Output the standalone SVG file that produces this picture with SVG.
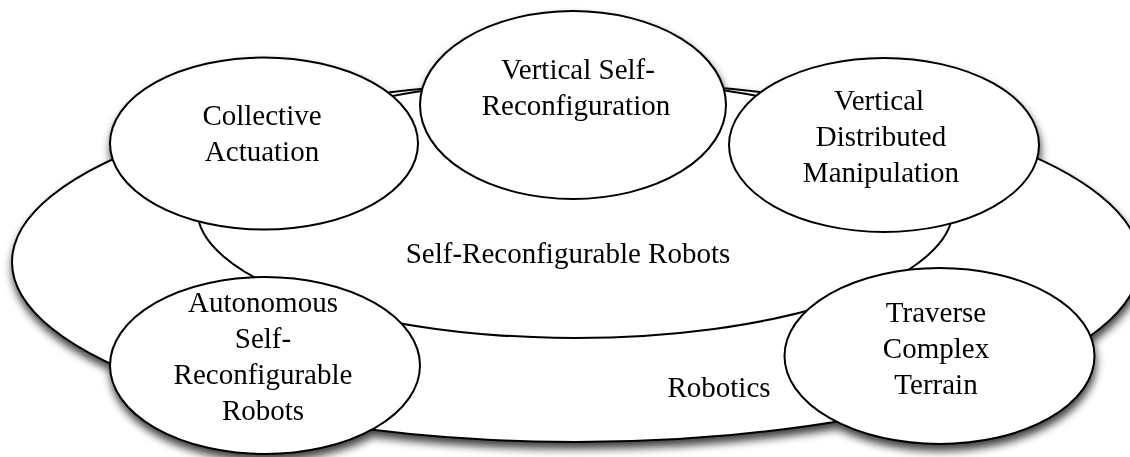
<svg xmlns="http://www.w3.org/2000/svg" width="1130" height="457" viewBox="0 0 1130 457">
  <defs>
    <!-- one soft shadow for the whole figure, so it sits beneath every shape -->
    <filter id="soft-shadow" x="-10%" y="-10%" width="120%" height="125%">
      <feDropShadow dx="1" dy="6" stdDeviation="4.5" flood-color="#000" flood-opacity="0.75"/>
    </filter>
  </defs>
  <style>
    .shape { fill: #fff; stroke: #000; stroke-width: 2; }
    .label { font-family: "Liberation Serif", "Times New Roman", serif; font-size: 29px; fill: #000; text-anchor: middle; }
  </style>

  <rect width="1130" height="457" fill="#fff"/>

  <g id="diagram" filter="url(#soft-shadow)">
    <!-- outer field -->
    <g id="robotics">
      <ellipse class="shape" cx="576" cy="262" rx="564" ry="180"/>
      <text class="label" x="719" y="397">Robotics</text>
    </g>

    <!-- inner field -->
    <g id="self-reconfigurable-robots">
      <ellipse class="shape" cx="575" cy="209" rx="378" ry="129"/>
      <text class="label" x="568" y="263">Self-Reconfigurable Robots</text>
    </g>

    <!-- topic bubbles around the rim -->
    <g id="collective-actuation">
      <ellipse class="shape" cx="264" cy="143.5" rx="154" ry="86"/>
      <text class="label" x="262" y="125">Collective</text>
      <text class="label" x="262" y="161">Actuation</text>
    </g>

    <g id="vertical-self-reconfiguration">
      <ellipse class="shape" cx="573" cy="105" rx="153" ry="94"/>
      <text class="label" x="578" y="79">Vertical Self-</text>
      <text class="label" x="576" y="115">Reconfiguration</text>
    </g>

    <g id="vertical-distributed-manipulation">
      <ellipse class="shape" cx="884" cy="145" rx="155" ry="87"/>
      <text class="label" x="879" y="110">Vertical</text>
      <text class="label" x="881" y="146">Distributed</text>
      <text class="label" x="881" y="182">Manipulation</text>
    </g>

    <g id="autonomous-self-reconfigurable-robots">
      <ellipse class="shape" cx="265" cy="365.5" rx="155" ry="88.5"/>
      <text class="label" x="263" y="312">Autonomous</text>
      <text class="label" x="263" y="348">Self-</text>
      <text class="label" x="263" y="384">Reconfigurable</text>
      <text class="label" x="263" y="420">Robots</text>
    </g>

    <g id="traverse-complex-terrain">
      <ellipse class="shape" cx="939.5" cy="356" rx="155" ry="88"/>
      <text class="label" x="936" y="322">Traverse</text>
      <text class="label" x="936" y="358">Complex</text>
      <text class="label" x="936" y="394">Terrain</text>
    </g>
  </g>
</svg>
